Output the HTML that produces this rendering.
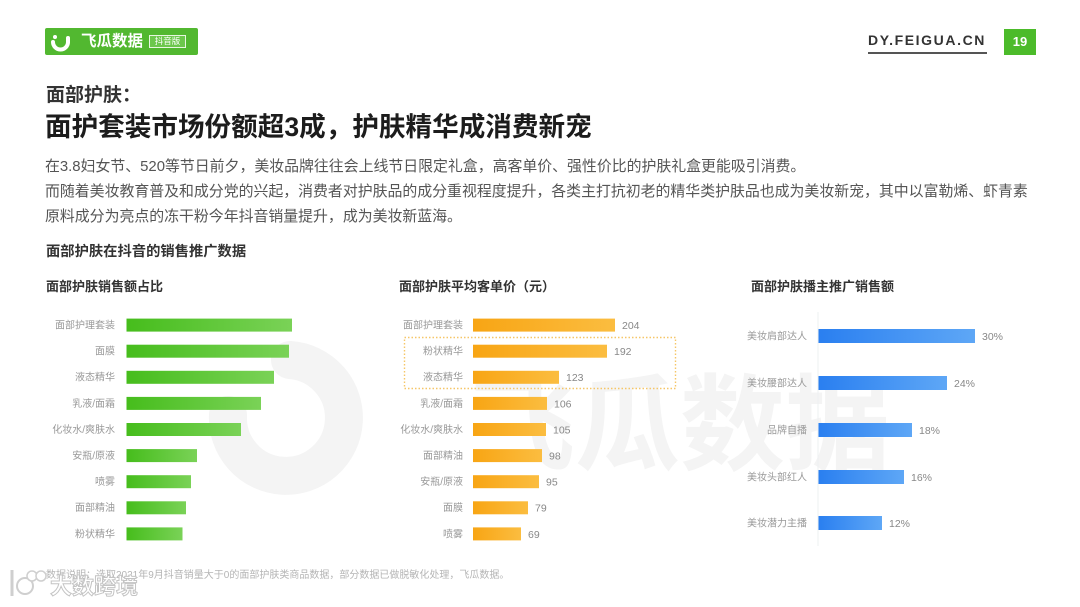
<!DOCTYPE html>
<html>
<head>
<meta charset="utf-8">
<style>
  html,body{margin:0;padding:0;background:#fff;}
  body{width:1080px;height:607px;position:relative;overflow:hidden;
       font-family:"Liberation Sans","Noto Sans CJK SC",sans-serif;}
  .abs{position:absolute;white-space:nowrap;}
  .cjk{font-family:"Liberation Sans","Noto Sans CJK SC",sans-serif;}
</style>
</head>
<body>

<svg class="abs" style="left:0;top:0" width="1080" height="607" viewBox="0 0 1080 607" xmlns="http://www.w3.org/2000/svg">
  <defs>
    <linearGradient id="gG" x1="0" y1="0" x2="1" y2="0">
      <stop offset="0" stop-color="#46bd1c"/>
      <stop offset="1" stop-color="#7ad257"/>
    </linearGradient>
    <linearGradient id="gO" x1="0" y1="0" x2="1" y2="0">
      <stop offset="0" stop-color="#f8a514"/>
      <stop offset="1" stop-color="#fbbd40"/>
    </linearGradient>
    <linearGradient id="gB" x1="0" y1="0" x2="1" y2="0">
      <stop offset="0" stop-color="#2a7ff0"/>
      <stop offset="1" stop-color="#5ea7f6"/>
    </linearGradient>
  </defs>

  <!-- watermark logo arc -->
  <path d="M 228 415 A 58 58 0 1 0 290 360" fill="none" stroke="#f4f4f4" stroke-width="38" stroke-linecap="round"/>
  <!-- watermark text -->
  <text x="470" y="462" font-family="Liberation Sans, Noto Sans CJK SC, sans-serif" font-weight="bold" font-size="105" fill="#f4f4f4" textLength="420" lengthAdjust="spacingAndGlyphs">飞瓜数据</text>

  <!-- Chart 1 green -->
  <g font-family="Liberation Sans, Noto Sans CJK SC, sans-serif" font-size="10" fill="#999" text-anchor="end">
    <text x="115" y="328.5">面部护理套装</text>
    <text x="115" y="354.6">面膜</text>
    <text x="115" y="380.7">液态精华</text>
    <text x="115" y="406.8">乳液/面霜</text>
    <text x="115" y="432.9">化妆水/爽肤水</text>
    <text x="115" y="459">安瓶/原液</text>
    <text x="115" y="485.1">喷雾</text>
    <text x="115" y="511.2">面部精油</text>
    <text x="115" y="537.3">粉状精华</text>
  </g>
  <g fill="url(#gG)">
    <rect x="126.5" y="318.6" width="165.5" height="13"/>
    <rect x="126.5" y="344.7" width="162.5" height="13"/>
    <rect x="126.5" y="370.8" width="147.5" height="13"/>
    <rect x="126.5" y="396.9" width="134.5" height="13"/>
    <rect x="126.5" y="423" width="114.5" height="13"/>
    <rect x="126.5" y="449.1" width="70.5" height="13"/>
    <rect x="126.5" y="475.2" width="64.5" height="13"/>
    <rect x="126.5" y="501.3" width="59.5" height="13"/>
    <rect x="126.5" y="527.4" width="56" height="13"/>
  </g>

  <!-- Chart 2 orange -->
  <rect x="404.5" y="337.5" width="271" height="51" fill="none" stroke="#f6c667" stroke-width="1.4" stroke-dasharray="1.5,2"/>
  <g font-family="Liberation Sans, Noto Sans CJK SC, sans-serif" font-size="10" fill="#999" text-anchor="end">
    <text x="463" y="328.5">面部护理套装</text>
    <text x="463" y="354.6">粉状精华</text>
    <text x="463" y="380.7">液态精华</text>
    <text x="463" y="406.8">乳液/面霜</text>
    <text x="463" y="432.9">化妆水/爽肤水</text>
    <text x="463" y="459">面部精油</text>
    <text x="463" y="485.1">安瓶/原液</text>
    <text x="463" y="511.2">面膜</text>
    <text x="463" y="537.3">喷雾</text>
  </g>
  <g fill="url(#gO)">
    <rect x="473" y="318.6" width="142" height="13"/>
    <rect x="473" y="344.7" width="134" height="13"/>
    <rect x="473" y="370.8" width="86" height="13"/>
    <rect x="473" y="396.9" width="74" height="13"/>
    <rect x="473" y="423" width="73" height="13"/>
    <rect x="473" y="449.1" width="69" height="13"/>
    <rect x="473" y="475.2" width="66" height="13"/>
    <rect x="473" y="501.3" width="55" height="13"/>
    <rect x="473" y="527.4" width="48" height="13"/>
  </g>
  <g font-family="Liberation Sans, sans-serif" font-size="10.5" fill="#888">
    <text x="622" y="329">204</text>
    <text x="614" y="355.1">192</text>
    <text x="566" y="381.2">123</text>
    <text x="554" y="407.3">106</text>
    <text x="553" y="433.4">105</text>
    <text x="549" y="459.5">98</text>
    <text x="546" y="485.6">95</text>
    <text x="535" y="511.7">79</text>
    <text x="528" y="537.8">69</text>
  </g>

  <!-- Chart 3 blue -->
  <line x1="818" y1="312" x2="818" y2="546" stroke="#eef0f2" stroke-width="1"/>
  <g font-family="Liberation Sans, Noto Sans CJK SC, sans-serif" font-size="10" fill="#999" text-anchor="end">
    <text x="807" y="339.5">美妆肩部达人</text>
    <text x="807" y="386.5">美妆腰部达人</text>
    <text x="807" y="433.5">品牌自播</text>
    <text x="807" y="480.5">美妆头部红人</text>
    <text x="807" y="526.5">美妆潜力主播</text>
  </g>
  <g fill="url(#gB)">
    <rect x="818.5" y="329" width="156.5" height="14"/>
    <rect x="818.5" y="376" width="128.5" height="14"/>
    <rect x="818.5" y="423" width="93.5" height="14"/>
    <rect x="818.5" y="470" width="85.5" height="14"/>
    <rect x="818.5" y="516" width="63.5" height="14"/>
  </g>
  <g font-family="Liberation Sans, sans-serif" font-size="10.5" fill="#888">
    <text x="982" y="339.8">30%</text>
    <text x="954" y="386.8">24%</text>
    <text x="919" y="433.8">18%</text>
    <text x="911" y="480.8">16%</text>
    <text x="889" y="526.8">12%</text>
  </g>
</svg>

<!-- Logo -->
<div class="abs" style="left:45px;top:28px;width:153px;height:27px;background:#52b830;border-radius:2px;"></div>
<svg class="abs" style="left:49px;top:31px" width="24" height="22" viewBox="0 0 24 22">
  <path d="M 4 11 A 7.5 7.5 0 0 0 19 11" fill="none" stroke="#fff" stroke-width="4" stroke-linecap="round"/>
  <path d="M 19 11 L 19 7" stroke="#fff" stroke-width="4" stroke-linecap="round"/>
  <circle cx="6" cy="6" r="2" fill="#fff"/>
</svg>
<div class="abs cjk" style="left:81px;top:29px;line-height:25px;font-size:15.5px;font-weight:bold;color:#fff;">飞瓜数据</div>
<div class="abs cjk" style="left:149px;top:35px;width:37px;height:13px;border:1px solid #e8f6e0;box-sizing:border-box;background:#6cc74c;"></div>
<div class="abs cjk" style="left:149px;top:35px;width:37px;line-height:13px;font-size:8.5px;color:#fff;text-align:center;">抖音版</div>

<!-- header right -->
<div class="abs" style="left:868px;top:32px;line-height:17px;font-size:14px;font-weight:bold;color:#333;letter-spacing:1.6px;">DY.FEIGUA.CN</div>
<div class="abs" style="left:868px;top:52px;width:119px;height:2px;background:#555;"></div>
<div class="abs" style="left:1004px;top:29px;width:32px;height:26px;background:#4cbb2a;color:#fff;font-weight:bold;font-size:13px;line-height:26px;text-align:center;">19</div>

<!-- headings -->
<div class="abs cjk" style="left:46px;top:83px;line-height:26px;font-size:19px;font-weight:bold;color:#333;">面部护肤：</div>
<div class="abs cjk" style="left:45px;top:109px;line-height:36px;font-size:26.6px;font-weight:bold;color:#1c1c1c;">面护套装市场份额超3成，护肤精华成消费新宠</div>

<!-- paragraph -->
<div class="abs cjk" style="left:45px;top:156px;line-height:22px;font-size:14.9px;color:#555;">在3.8妇女节、520等节日前夕，美妆品牌往往会上线节日限定礼盒，高客单价、强性价比的护肤礼盒更能吸引消费。</div>
<div class="abs cjk" style="left:45px;top:181px;line-height:22px;font-size:14.9px;color:#555;">而随着美妆教育普及和成分党的兴起，消费者对护肤品的成分重视程度提升，各类主打抗初老的精华类护肤品也成为美妆新宠，其中以富勒烯、虾青素</div>
<div class="abs cjk" style="left:45px;top:206px;line-height:22px;font-size:14.9px;color:#555;">原料成分为亮点的冻干粉今年抖音销量提升，成为美妆新蓝海。</div>

<!-- section titles -->
<div class="abs cjk" style="left:46px;top:242px;line-height:21px;font-size:14.3px;font-weight:bold;color:#333;">面部护肤在抖音的销售推广数据</div>
<div class="abs cjk" style="left:46px;top:277px;line-height:19px;font-size:13px;font-weight:bold;color:#333;">面部护肤销售额占比</div>
<div class="abs cjk" style="left:399px;top:277px;line-height:19px;font-size:13px;font-weight:bold;color:#333;">面部护肤平均客单价（元）</div>
<div class="abs cjk" style="left:751px;top:277px;line-height:19px;font-size:13px;font-weight:bold;color:#333;">面部护肤播主推广销售额</div>

<!-- footer -->
<div class="abs cjk" style="left:46px;top:568px;line-height:15px;font-size:10px;color:#b5b5b5;">数据说明：选取2021年9月抖音销量大于0的面部护肤类商品数据，部分数据已做脱敏化处理，飞瓜数据。</div>

<!-- bottom-left watermark -->
<svg class="abs" style="left:8px;top:566px" width="40" height="34" viewBox="0 0 40 34">
  <path d="M 4 4 L 4 30" stroke="#cfcfcf" stroke-width="3" fill="none"/>
  <circle cx="17" cy="20" r="8" fill="#fff" stroke="#cfcfcf" stroke-width="2"/>
  <circle cx="24" cy="10" r="5" fill="#fff" stroke="#cfcfcf" stroke-width="1.5"/>
  <circle cx="33" cy="10" r="5" fill="#fff" stroke="#cfcfcf" stroke-width="1.5"/>
</svg>
<div class="abs cjk" style="left:50px;top:572px;line-height:30px;font-size:22px;font-weight:bold;color:#fff;-webkit-text-stroke:1px #c4c4c4;">大数跨境</div>

</body>
</html>
